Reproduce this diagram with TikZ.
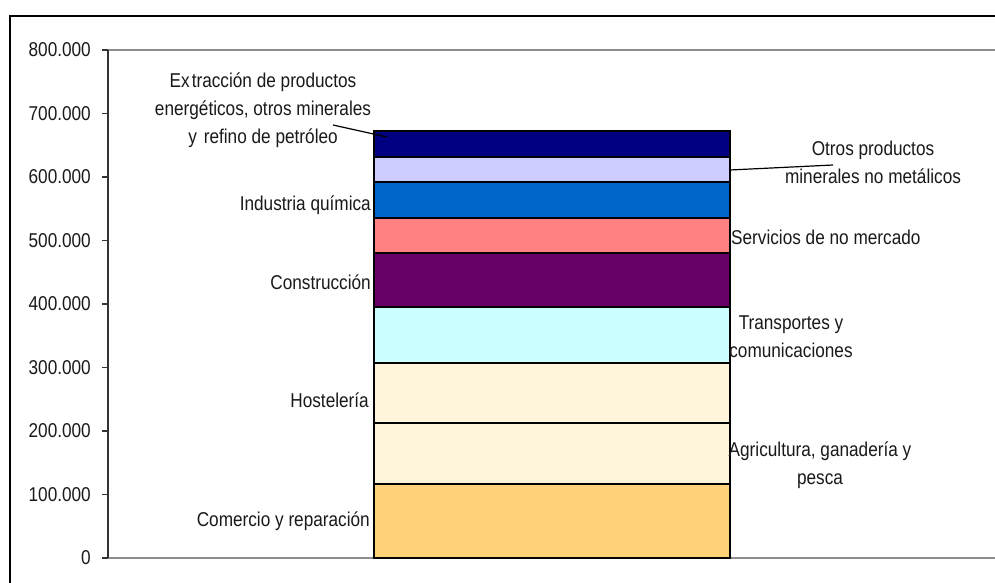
\documentclass[tikz,border=0pt]{standalone}
\usepackage{fontspec}
\setmainfont{Liberation Sans}[FakeStretch=0.86]
\definecolor{cComercio}{HTML}{FFD27A}
\definecolor{cCream}{HTML}{FFF5DA}
\definecolor{cTrans}{HTML}{CCFFFF}
\definecolor{cConst}{HTML}{660066}
\definecolor{cServ}{HTML}{FF8080}
\definecolor{cQuim}{HTML}{0066CC}
\definecolor{cOtros}{HTML}{CCCCFF}
\definecolor{cExtr}{HTML}{000080}
\definecolor{txt}{HTML}{1A1A1A}
\begin{document}
\begin{tikzpicture}[x=1pt,y=-1pt,
  lbl/.style={font=\fontsize{20}{28}\selectfont, inner sep=0pt, text=txt},
  seg/.style={draw=black, line width=1.2pt},
  axisline/.style={draw=black!45, line width=1.3pt},
  leader/.style={draw=black, line width=1.2pt}]
\useasboundingbox (0,0) rectangle (995,583);
\fill[white] (0,0) rectangle (995,583);
% outer frame
\draw[black, line width=1.6pt] (10,583) -- (10,16) -- (995,16);
% plot area
\draw[axisline] (108,50) -- (995,50);
\draw[axisline] (108,558) -- (995,558);
\draw[black!80, line width=1.2pt] (108,50) -- (108,558);
% ticks and labels
\foreach \v/\t in {0/0,100/100.000,200/200.000,300/300.000,400/400.000,500/500.000,600/600.000,700/700.000,800/800.000}{
  \draw[black!80, line width=1.1pt] (102,558-0.635*\v) -- (108,558-0.635*\v);
  \node[lbl, anchor=east] (tick\v) at (91,558-0.635*\v) {\t};
}
% bar segments
\filldraw[seg, fill=cComercio] (374,558) rectangle (730,484);
\filldraw[seg, fill=cCream] (374,484) rectangle (730,423);
\filldraw[seg, fill=cCream] (374,423) rectangle (730,363);
\filldraw[seg, fill=cTrans] (374,363) rectangle (730,307);
\filldraw[seg, fill=cConst] (374,307) rectangle (730,253);
\filldraw[seg, fill=cServ] (374,253) rectangle (730,218);
\filldraw[seg, fill=cQuim] (374,218) rectangle (730,182);
\filldraw[seg, fill=cOtros] (374,182) rectangle (730,157);
\filldraw[seg, fill=cExtr] (374,157) rectangle (730,131);
% left labels
\node[lbl, anchor=east] (comercio) at (370,521) {Comercio y reparación};
\node[lbl, anchor=east] (hosteleria) at (369,400) {Hostelería};
\node[lbl, anchor=east] (construccion) at (371,282) {Construcción};
\node[lbl, anchor=east] (quimica) at (371,205) {Industria química};
\node[lbl, align=center] (extraccion) at (263,110) {Ex\kern2pt tracción de productos\\energéticos, otros minerales\\y\kern7pt refino de petróleo};
% right labels
\node[lbl, anchor=west] (servicios) at (731,237) {Servicios de no mercado};
\node[lbl, align=center] (transportes) at (791,337) {Transportes y\\comunicaciones};
\node[lbl, align=center] (agricultura) at (820,465) {Agricultura, ganadería y\\pesca};
\node[lbl, align=center] (otros) at (873,162) {Otros productos\\minerales no metálicos};
% leaders
\coordinate (extrA) at (333,125);
\coordinate (extrB) at (387,137);
\draw[leader] (extrA) -- (extrB);
\coordinate (otrosA) at (730,170);
\coordinate (otrosB) at (833,165);
\draw[leader] (otrosA) -- (otrosB);
\end{tikzpicture}
\end{document}
